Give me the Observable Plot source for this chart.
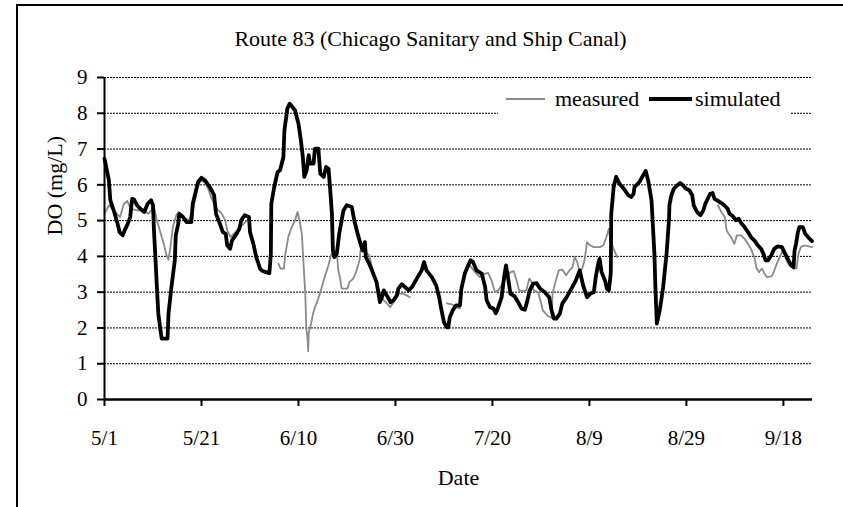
<!DOCTYPE html>
<html>
<head>
<meta charset="utf-8">
<script src="https://cdn.jsdelivr.net/npm/d3@7"></script>
<script src="https://cdn.jsdelivr.net/npm/@observablehq/plot@0.6"></script>
<style>
  html, body { margin: 0; padding: 0; background: #fff; }
  #wrap { position: relative; width: 843px; height: 507px; overflow: hidden; background: #fff; }
  #wrap svg, #wrap svg text { font-family: "Liberation Serif", "Times New Roman", serif !important; }
  #border { position: absolute; left: 16px; top: 4px; right: -5px; bottom: -5px;
            border-left: 2.5px solid #000; border-top: 2.5px solid #000; pointer-events: none; }
</style>
</head>
<body>
<div id="wrap"><div id="border"></div></div>
<script>
// ---- chart text ----
const chartTitle = "Route 83 (Chicago Sanitary and Ship Canal)";
const yLabel = "DO (mg/L)";
const xLabel = "Date";
const seriesNames = ["measured", "simulated"];
const seriesColors = ["#8a8a8a", "#000000"];

// ---- ticks (x = days since 5/1) ----
const xTickDays = [0, 20, 40, 60, 80, 100, 120, 140];
const xTickLabels = ["5/1", "5/21", "6/10", "6/30", "7/20", "8/9", "8/29", "9/18"];
const yTicks = [0, 1, 2, 3, 4, 5, 6, 7, 8, 9];

// ---- simulated DO ----
const simDay = [0,0.9,1.2,2.0,2.7,3.1,3.75,4.3,4.8,5.3,5.7,6.1,6.7,7.4,8.2,8.9,9.6,10.0,10.2,10.6,10.8,11.1,11.5,11.8,13.0,13.2,13.8,14.5,14.7,15.2,15.4,16.2,16.9,17.9,18.2,18.8,19.3,20.0,20.7,21.7,22.6,23.0,23.8,24.4,25.0,25.3,25.9,26.3,27.2,27.8,28.2,28.9,29.8,30.0,30.7,31.3,32.1,32.6,33.3,34.0,34.3,34.4,35.0,35.7,36.2,36.9,37.1,37.7,38.2,39.3,40.0,40.5,40.9,41.2,41.7,42.1,42.4,43.1,43.4,44.1,44.5,45.2,45.7,46.2,46.5,46.9,47.1,47.4,47.9,48.4,48.9,49.3,49.96,51.0,51.5,52.2,52.8,53.2,53.7,53.9,54.6,55.3,56.1,56.5,56.8,57.2,57.6,58.2,59.0,59.6,60.3,60.6,61.3,62.0,62.7,63.4,64.4,65.4,65.9,66.4,67.5,68.4,69.0,69.5,70.0,70.55,70.9,71.2,71.8,72.5,73.3,73.6,74.3,75.0,75.5,76.0,76.7,77.8,78.5,78.8,79.5,80.2,80.7,81.2,81.9,82.4,82.8,83.3,83.7,84.6,85.3,86.0,86.7,87.2,87.7,88.4,89.1,89.8,90.8,91.7,92.2,92.7,93.2,93.9,94.4,95.3,96.3,97.2,98.0,98.7,99.5,100.2,100.9,101.3,101.8,102.1,102.5,103.2,103.6,104.0,104.4,104.5,105.0,105.5,106.2,107.1,108.0,108.6,109.1,109.3,110.3,111.1,111.6,112.1,112.8,113.1,113.4,113.6,113.9,114.5,115.2,115.9,116.4,116.5,116.9,117.4,117.9,118.7,119.3,119.9,120.6,121.2,121.5,122.2,122.9,123.5,123.9,124.4,124.9,125.4,125.8,126.5,127.2,127.8,128.5,128.9,129.6,130.2,130.8,131.3,131.98,132.7,133.3,134.0,134.7,135.4,135.9,136.3,136.8,137.5,138.1,138.8,139.7,140.2,140.9,141.6,142.1,142.3,142.6,143.0,143.3,144.0,144.5,145.2,145.9];
const simDO = [6.73,6.13,5.57,5.24,4.91,4.68,4.59,4.77,4.91,5.10,5.61,5.59,5.43,5.33,5.24,5.47,5.57,5.43,4.73,3.70,3.14,2.40,1.98,1.70,1.70,2.40,3.14,3.89,4.59,4.91,5.19,5.10,4.96,4.96,5.47,5.80,6.08,6.20,6.13,5.94,5.71,5.19,4.91,4.68,4.63,4.31,4.21,4.45,4.62,4.77,5.01,5.15,5.10,4.68,4.35,3.98,3.65,3.59,3.56,3.53,4.07,5.47,5.94,6.36,6.41,6.78,7.52,8.13,8.27,8.08,7.71,7.24,6.78,6.22,6.41,6.83,6.59,6.59,7.01,7.01,6.31,6.22,6.50,6.45,5.94,5.19,4.17,3.98,4.07,4.63,5.01,5.29,5.43,5.38,5.01,4.63,4.35,4.17,4.40,3.98,3.79,3.56,3.28,2.96,2.72,2.86,3.05,2.91,2.72,2.77,2.91,3.10,3.22,3.14,3.05,3.14,3.38,3.61,3.84,3.61,3.42,3.19,2.86,2.49,2.16,2.02,2.02,2.30,2.49,2.63,2.63,3.10,3.52,3.75,3.89,3.84,3.61,3.52,3.14,2.77,2.58,2.54,2.41,2.58,2.86,3.42,3.75,3.33,2.96,2.88,2.72,2.54,2.51,2.77,3.05,3.24,3.25,3.10,3.00,2.86,2.49,2.26,2.26,2.40,2.68,2.86,3.10,3.33,3.61,3.19,2.86,2.96,3.00,3.42,3.79,3.93,3.56,3.33,3.10,3.05,3.52,5.19,5.94,6.22,6.03,5.89,5.71,5.66,5.75,5.94,6.08,6.27,6.39,6.13,5.57,4.82,4.07,3.14,2.12,2.49,3.14,4.07,5.01,5.43,5.71,5.89,5.96,6.05,5.99,5.89,5.85,5.71,5.43,5.24,5.15,5.29,5.47,5.61,5.75,5.77,5.61,5.55,5.49,5.43,5.33,5.19,5.12,5.01,5.05,4.93,4.82,4.68,4.54,4.45,4.31,4.21,4.07,3.89,3.89,4.03,4.21,4.28,4.26,4.12,3.93,3.75,3.70,4.17,4.35,4.68,4.82,4.82,4.63,4.52,4.43];

// ---- measured DO (null = no data) ----
const measDay = [0,0.9,1.6,3.2,4.0,4.7,5.4,6.7,8.1,9.1,10.2,10.8,11.5,12.2,12.8,13.2,13.6,14.1,14.8,15.3,16.3,17.4,18.4,19.1,19.8,20.8,21.5,21.96,23.2,24.2,24.9,25.3,26.0,27.0,28.0,28.7,29.7,32.0,35.9,36.3,37.0,37.3,37.9,38.6,39.3,39.8,40.2,40.7,41.0,41.4,41.6,41.9,42.0,42.1,42.6,43.0,43.4,44.1,44.8,45.5,46.2,46.7,47.4,48.0,48.2,48.6,48.9,49.6,50.1,50.5,51.3,52.0,52.6,52.8,53.4,54.2,54.6,55.3,56.1,56.8,57.6,58.3,58.9,59.6,60.6,61.6,62.3,63.0,67.0,70.6,71.6,72.6,73.3,73.8,74.3,75.3,76.3,77.4,78.5,79.1,79.8,80.5,81.2,81.9,82.9,83.7,84.4,84.97,85.5,86.3,87.0,87.6,88.1,88.5,89.4,89.9,90.4,91.3,92.2,92.4,92.9,93.7,94.4,95.2,95.9,96.5,96.97,97.5,98.0,98.6,99.0,99.5,100.1,100.9,102.1,102.9,103.5,104.0,104.3,104.99,105.7,115.0,126.5,127.2,127.9,128.3,128.7,129.2,129.9,130.4,131.3,131.98,132.7,133.3,134.0,134.5,135.0,135.6,136.1,136.6,137.5,137.9,138.5,139.2,139.9,140.5,141.2,142.1,142.7,143.1,143.6,144.3,145.2,145.9];
const measDO = [5.19,5.43,5.33,5.10,5.47,5.55,5.33,5.29,5.29,5.19,5.38,5.01,4.68,4.35,4.03,3.91,4.26,4.82,5.15,5.24,5.10,5.00,5.40,5.90,6.13,6.05,5.85,5.66,5.33,5.19,5.01,4.73,4.54,4.68,4.82,4.91,5.05,null,3.79,3.66,3.66,4.07,4.54,4.82,5.01,5.24,5.01,4.63,3.89,2.96,2.02,1.65,1.35,1.84,2.12,2.40,2.58,2.82,3.14,3.47,3.75,4.03,4.17,3.98,3.61,3.38,3.10,3.10,3.10,3.28,3.38,3.61,3.89,4.17,4.12,4.07,4.03,3.61,3.24,2.96,2.77,2.68,2.58,2.72,2.96,2.96,2.91,2.86,null,2.69,2.66,2.58,2.54,3.24,3.52,3.75,3.58,3.42,3.52,3.54,3.33,3.00,3.05,3.19,3.42,3.56,3.59,3.33,3.05,3.03,3.05,3.38,3.28,3.05,3.00,2.77,2.49,2.35,2.28,2.96,3.24,3.61,3.63,3.47,3.61,3.70,3.98,3.84,3.52,3.70,3.89,4.40,4.31,4.26,4.26,4.31,4.54,4.77,4.45,4.21,3.98,null,5.43,5.24,5.10,4.73,4.63,4.54,4.35,4.59,4.59,4.49,4.35,4.21,3.98,3.66,3.56,3.66,3.52,3.42,3.44,3.52,3.75,3.98,4.17,3.93,3.75,3.66,3.66,4.07,4.26,4.31,4.28,4.26];

const sim = simDay.map((d, i) => ({day: d, v: simDO[i]}));
const meas = measDay.map((d, i) => ({day: d, v: measDO[i]}));

const font = "Liberation Serif";

const chart = Plot.plot({
  width: 843,
  height: 507,
  marginLeft: 104,
  marginRight: 31,
  marginTop: 77,
  marginBottom: 108,
  style: {fontFamily: font, fontSize: "21px", color: "#000", background: "transparent", overflow: "visible"},
  x: {domain: [0, 146]},
  y: {domain: [0, 9]},
  marks: [
    Plot.gridY(yTicks.filter(t => t > 0), {stroke: "#000", strokeOpacity: 1, strokeWidth: 1, strokeDasharray: "2,1"}),
    Plot.line(meas, {x: "day", y: "v", stroke: seriesColors[0], strokeWidth: 1.8}),
    Plot.line(sim, {x: "day", y: "v", stroke: seriesColors[1], strokeWidth: 3.8, strokeLinejoin: "round"}),
    Plot.ruleY([0], {stroke: "#000", strokeWidth: 2.5}),
    Plot.ruleX([0], {stroke: "#000", strokeWidth: 2}),
    Plot.axisX({ticks: xTickDays, tickFormat: d => xTickLabels[xTickDays.indexOf(d)], tickSize: 7, tickPadding: 24, strokeWidth: 2, fontSize: 21, fontFamily: font, label: null}),
    Plot.axisY({ticks: yTicks, tickSize: 7, tickPadding: 10, strokeWidth: 2, fontSize: 21, fontFamily: font, label: null}),
    Plot.text([chartTitle], {text: d => d, frameAnchor: "top", dx: -28, dy: -32, lineAnchor: "bottom", fontSize: 22, fontFamily: font}),
    Plot.text([yLabel], {text: d => d, frameAnchor: "left", rotate: -90, dx: -42.5, dy: -3, lineAnchor: "bottom", fontSize: 22, fontFamily: font}),
    Plot.text([xLabel], {text: d => d, frameAnchor: "bottom", dy: 85, lineAnchor: "bottom", fontSize: 22, fontFamily: font})
  ]
});
const wrap = document.getElementById("wrap");
chart.style.position = "absolute";
chart.style.left = "0px";
chart.style.top = "0px";
wrap.insertBefore(chart, wrap.firstChild);

// ---- legend (white box over the 8 gridline) ----
const ns = "http://www.w3.org/2000/svg";
const leg = document.createElementNS(ns, "svg");
leg.setAttribute("width", 292);
leg.setAttribute("height", 28);
leg.style.position = "absolute";
leg.style.left = "498px";
leg.style.top = "86px";
const bg = document.createElementNS(ns, "rect");
bg.setAttribute("width", 292); bg.setAttribute("height", 28); bg.setAttribute("fill", "#fff");
leg.appendChild(bg);
const swatchX = [[8, 47], [151, 194]];
const textX = [57, 197];
const widths = [1.8, 4];
seriesNames.forEach((name, i) => {
  const ln = document.createElementNS(ns, "line");
  ln.setAttribute("x1", swatchX[i][0]); ln.setAttribute("x2", swatchX[i][1]);
  ln.setAttribute("y1", 13); ln.setAttribute("y2", 13);
  ln.setAttribute("stroke", seriesColors[i]); ln.setAttribute("stroke-width", widths[i]);
  leg.appendChild(ln);
  const tx = document.createElementNS(ns, "text");
  tx.setAttribute("x", textX[i]); tx.setAttribute("y", 20);
  tx.setAttribute("font-size", 22);
  tx.textContent = name;
  leg.appendChild(tx);
});
wrap.appendChild(leg);
</script>
</body>
</html>
